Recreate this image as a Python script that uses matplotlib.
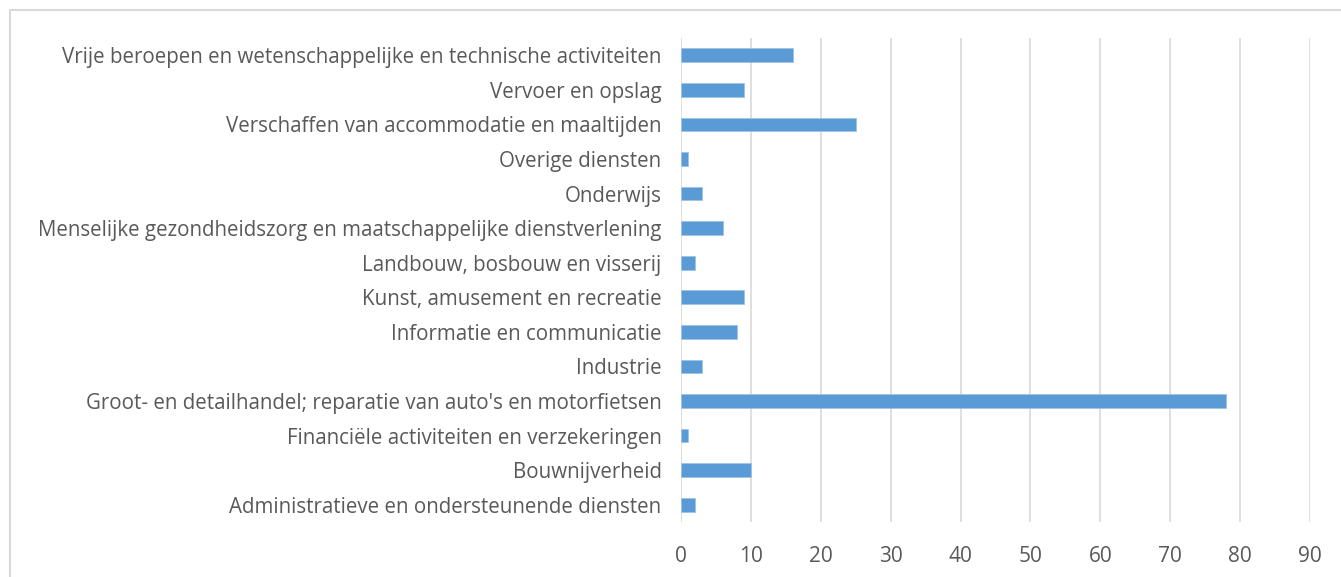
import numpy as np
import matplotlib.pyplot as plt
from matplotlib.patches import Rectangle

# sectors, bottom to top as drawn
sectors = [
    "Administratieve en ondersteunende diensten",
    "Bouwnijverheid",
    "Financiële activiteiten en verzekeringen",
    "Groot- en detailhandel; reparatie van auto's en motorfietsen",
    "Industrie",
    "Informatie en communicatie",
    "Kunst, amusement en recreatie",
    "Landbouw, bosbouw en visserij",
    "Menselijke gezondheidszorg en maatschappelijke dienstverlening",
    "Onderwijs",
    "Overige diensten",
    "Verschaffen van accommodatie en maaltijden",
    "Vervoer en opslag",
    "Vrije beroepen en wetenschappelijke en technische activiteiten",
]
counts = [2, 10, 1, 78, 3, 8, 9, 2, 6, 3, 1, 25, 9, 16]
xticks = [0, 10, 20, 30, 40, 50, 60, 70, 80, 90]

plt.rcParams['font.family'] = ['Open Sans', 'DejaVu Sans']

fig = plt.figure(figsize=(13.41, 5.77), dpi=100)
# chart frame
fig.patches.append(Rectangle((9.5/1341, -0.01), 1.0, 1 - 9.5/577 + 0.01,
                             transform=fig.transFigure, fill=False,
                             edgecolor='#d9d9d9', linewidth=1.5))

ax = fig.add_axes([681/1341, 1 - 522/577, (1310 - 681)/1341, (522 - 38)/577])
y = np.arange(len(sectors))
ax.barh(y, counts, height=0.4, color='#5b9bd5', edgecolor='#9dc3e6',
        linewidth=0.6, zorder=3)

ax.set_xlim(0, 90)
ax.set_ylim(-0.5, len(sectors) - 0.5)
ax.set_xticks(xticks)
ax.set_yticks(y)
ax.set_yticklabels(sectors)
ax.tick_params(axis='y', length=0, pad=14, labelsize=14.8, labelcolor='#595959')
ax.tick_params(axis='x', length=0, pad=17, labelsize=15, labelcolor='#595959')
ax.grid(axis='x', color='#d9d9d9', linewidth=1.2, zorder=0)
for s in ax.spines.values():
    s.set_visible(False)

fig.savefig('out.png', dpi=100)
